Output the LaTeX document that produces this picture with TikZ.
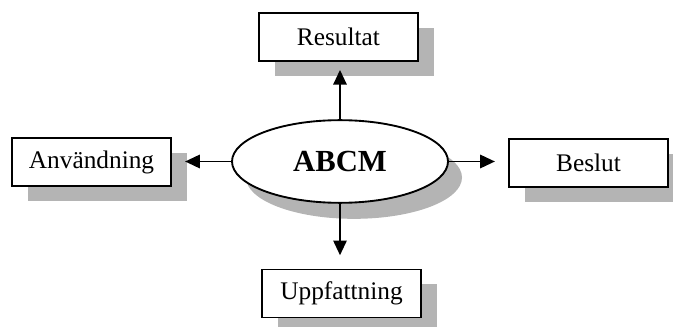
\documentclass[tikz,border=0pt]{standalone}
\usepackage{fontspec}
\setmainfont{Liberation Serif}
\usepackage{tikz}
\usetikzlibrary{shapes,shadows,arrows.meta,positioning}
\definecolor{shade}{HTML}{B4B4B4}

\begin{document}
\begin{tikzpicture}[x=0.75pt, y=-0.75pt, >={Triangle[length=11pt, width=10pt]},
  box/.style={rectangle, draw=black, line width=1.4pt, fill=white, minimum width=119pt, minimum height=36pt, inner sep=0pt, font=\fontsize{19}{23}\selectfont,
    drop shadow={shadow xshift=12pt, shadow yshift=-11pt, fill=shade, opacity=1}},
  hub/.style={ellipse, draw=black, line width=1.4pt, fill=white, minimum width=162pt, minimum height=62pt, inner sep=0pt, font=\fontsize{23}{27}\bfseries\selectfont,
    drop shadow={shadow xshift=10.5pt, shadow yshift=-12pt, fill=shade, opacity=1}},
  link/.style={->, line width=1.4pt, shorten >=10pt}]
  \useasboundingbox (0,0) rectangle (673,327);
  \node[hub] (abcm) at (340,161.5) {ABCM};
  \node[box] (res) at (338.5,37) {Resultat};
  \node[box] (anv) at (91.5,162) {Användning};
  \node[box] (bes) at (588.5,163) {Beslut};
  \node[box] (upp) at (341.5,293.5) {Uppfattning};
  \draw[link, shorten >=6pt] (abcm.north) -- (abcm.north |- res.south);
  \draw[link] (abcm.west) -- (anv.east |- abcm.west);
  \draw[link] (abcm.east) -- (bes.west |- abcm.east);
  \draw[link] (abcm.south) -- (abcm.south |- upp.north);
\end{tikzpicture}
\end{document}
